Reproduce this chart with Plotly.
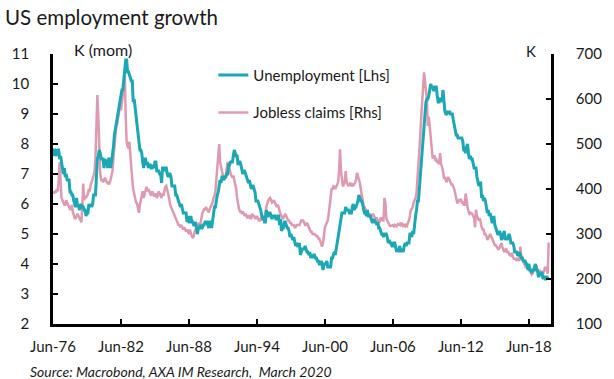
import pandas as pd
import plotly.graph_objects as go

# ---------------- DATA ----------------
start_month = "1976-06-01"
x_range = ["1976-06-01", "2020-05-15"]
tick_dates = ["1976-06-01", "1982-06-01", "1988-06-01", "1994-06-01",
              "2000-06-01", "2006-06-01", "2012-06-01", "2018-06-01"]
tick_labels = ["Jun-76", "Jun-82", "Jun-88", "Jun-94", "Jun-00", "Jun-06", "Jun-12", "Jun-18"]

# Unemployment rate (%), monthly, Jun-1976 .. Feb-2020  [Lhs]
unemployment_by_year = [
    [7.6, 7.8, 7.8, 7.6, 7.7, 7.8, 7.8],
    [7.5, 7.6, 7.4, 7.2, 7.0, 7.2, 6.9, 7.0, 6.8, 6.8, 6.8, 6.4],
    [6.4, 6.3, 6.3, 6.1, 6.0, 5.9, 6.2, 5.9, 6.0, 5.8, 5.9, 6.0],
    [5.9, 5.9, 5.8, 5.8, 5.6, 5.7, 5.7, 6.0, 5.9, 6.0, 5.9, 6.0],
    [6.3, 6.3, 6.3, 6.9, 7.5, 7.6, 7.8, 7.7, 7.5, 7.5, 7.5, 7.2],
    [7.5, 7.4, 7.4, 7.2, 7.5, 7.5, 7.2, 7.4, 7.6, 7.9, 8.3, 8.5],
    [8.6, 8.9, 9.0, 9.3, 9.4, 9.6, 9.8, 9.8, 10.1, 10.4, 10.8, 10.8],
    [10.4, 10.4, 10.3, 10.2, 10.1, 10.1, 9.4, 9.5, 9.2, 8.8, 8.5, 8.3],
    [8.0, 7.8, 7.8, 7.7, 7.4, 7.2, 7.5, 7.5, 7.3, 7.4, 7.2, 7.3],
    [7.3, 7.2, 7.2, 7.3, 7.2, 7.4, 7.4, 7.1, 7.1, 7.1, 7.0, 7.0],
    [6.7, 7.2, 7.2, 7.1, 7.2, 7.2, 7.0, 6.9, 7.0, 7.0, 6.9, 6.6],
    [6.6, 6.6, 6.6, 6.3, 6.3, 6.2, 6.1, 6.0, 5.9, 6.0, 5.8, 5.7],
    [5.7, 5.7, 5.7, 5.4, 5.6, 5.4, 5.4, 5.6, 5.4, 5.4, 5.3, 5.3],
    [5.4, 5.2, 5.0, 5.2, 5.2, 5.3, 5.2, 5.2, 5.3, 5.3, 5.4, 5.4],
    [5.4, 5.3, 5.2, 5.4, 5.4, 5.2, 5.5, 5.7, 5.9, 5.9, 6.2, 6.3],
    [6.4, 6.6, 6.8, 6.7, 6.9, 6.9, 6.8, 6.9, 6.9, 7.0, 7.0, 7.3],
    [7.3, 7.4, 7.4, 7.4, 7.6, 7.8, 7.7, 7.6, 7.6, 7.3, 7.4, 7.4],
    [7.3, 7.1, 7.0, 7.1, 7.1, 7.0, 6.9, 6.8, 6.7, 6.8, 6.6, 6.5],
    [6.6, 6.6, 6.5, 6.4, 6.1, 6.1, 6.1, 6.0, 5.9, 5.8, 5.6, 5.5],
    [5.6, 5.4, 5.4, 5.8, 5.6, 5.6, 5.7, 5.7, 5.6, 5.5, 5.6, 5.6],
    [5.6, 5.5, 5.5, 5.6, 5.6, 5.3, 5.5, 5.1, 5.2, 5.2, 5.4, 5.4],
    [5.3, 5.2, 5.2, 5.1, 4.9, 5.0, 4.9, 4.8, 4.9, 4.7, 4.6, 4.7],
    [4.6, 4.6, 4.7, 4.3, 4.4, 4.5, 4.5, 4.5, 4.6, 4.5, 4.4, 4.4],
    [4.3, 4.4, 4.2, 4.3, 4.2, 4.3, 4.3, 4.2, 4.2, 4.1, 4.1, 4.0],
    [4.0, 4.1, 4.0, 3.8, 4.0, 4.0, 4.0, 4.1, 3.9, 3.9, 3.9, 3.9],
    [4.2, 4.2, 4.3, 4.4, 4.3, 4.5, 4.6, 4.9, 5.0, 5.3, 5.5, 5.7],
    [5.7, 5.7, 5.7, 5.9, 5.8, 5.8, 5.8, 5.7, 5.7, 5.7, 5.9, 6.0],
    [5.8, 5.9, 5.9, 6.0, 6.1, 6.3, 6.2, 6.1, 6.1, 6.0, 5.8, 5.7],
    [5.7, 5.6, 5.8, 5.6, 5.6, 5.6, 5.5, 5.4, 5.4, 5.5, 5.4, 5.4],
    [5.3, 5.4, 5.2, 5.2, 5.1, 5.0, 5.0, 4.9, 5.0, 5.0, 5.0, 4.9],
    [4.7, 4.8, 4.7, 4.7, 4.6, 4.6, 4.7, 4.7, 4.5, 4.4, 4.5, 4.4],
    [4.6, 4.5, 4.4, 4.5, 4.4, 4.6, 4.7, 4.6, 4.7, 4.7, 4.7, 5.0],
    [5.0, 4.9, 5.1, 5.0, 5.4, 5.6, 5.8, 6.1, 6.1, 6.5, 6.8, 7.3],
    [7.8, 8.3, 8.7, 9.0, 9.4, 9.5, 9.5, 9.6, 9.8, 10.0, 9.9, 9.9],
    [9.8, 9.8, 9.9, 9.9, 9.6, 9.4, 9.4, 9.5, 9.5, 9.4, 9.8, 9.3],
    [9.1, 9.0, 9.0, 9.1, 9.0, 9.1, 9.0, 9.0, 9.0, 8.8, 8.6, 8.5],
    [8.3, 8.3, 8.2, 8.2, 8.2, 8.2, 8.2, 8.1, 7.8, 7.8, 7.7, 7.9],
    [8.0, 7.7, 7.5, 7.6, 7.5, 7.5, 7.3, 7.2, 7.2, 7.2, 6.9, 6.7],
    [6.6, 6.7, 6.7, 6.2, 6.3, 6.1, 6.2, 6.1, 5.9, 5.7, 5.8, 5.6],
    [5.7, 5.5, 5.4, 5.4, 5.6, 5.3, 5.2, 5.1, 5.0, 5.0, 5.1, 5.0],
    [4.8, 4.9, 5.0, 5.1, 4.8, 4.9, 4.8, 4.9, 5.0, 4.9, 4.7, 4.7],
    [4.7, 4.6, 4.4, 4.4, 4.4, 4.3, 4.3, 4.4, 4.3, 4.2, 4.2, 4.1],
    [4.1, 4.1, 4.0, 4.0, 3.8, 4.0, 3.8, 3.8, 3.7, 3.8, 3.8, 3.9],
    [4.0, 3.8, 3.8, 3.6, 3.6, 3.7, 3.7, 3.7, 3.5, 3.6, 3.5, 3.5],
    [3.6, 3.5],
]

# Initial jobless claims (K), monthly, Jun-1976 .. Mar-2020  [Rhs]
claims_by_year = [
    [395, 390, 395, 392, 400, 395, 420],
    [460, 420, 380, 375, 370, 365, 365, 375, 370, 365, 360, 355],
    [355, 365, 350, 340, 335, 335, 340, 345, 340, 335, 328, 326],
    [360, 412, 375, 385, 380, 385, 390, 400, 395, 410, 420, 422],
    [430, 440, 470, 560, 609, 560, 480, 435, 420, 420, 415, 420],
    [425, 420, 415, 415, 410, 415, 420, 430, 440, 470, 500, 520],
    [540, 545, 560, 575, 585, 575, 590, 610, 640, 661, 560, 505],
    [495, 490, 505, 470, 450, 420, 400, 390, 380, 370, 368, 360],
    [347, 365, 375, 385, 395, 380, 390, 400, 405, 395, 400, 395],
    [390, 385, 395, 390, 385, 385, 390, 380, 385, 395, 390, 385],
    [380, 390, 385, 395, 405, 407, 400, 390, 380, 365, 360, 355],
    [350, 345, 340, 335, 330, 325, 320, 320, 315, 320, 315, 310],
    [315, 310, 305, 310, 305, 300, 310, 300, 295, 291, 295, 305],
    [310, 315, 320, 320, 325, 320, 340, 345, 350, 355, 355, 360],
    [355, 350, 348, 355, 360, 365, 370, 380, 385, 395, 420, 440],
    [480, 500, 460, 445, 440, 430, 420, 425, 430, 445, 460, 455],
    [440, 435, 430, 425, 430, 420, 410, 400, 380, 360, 355, 350],
    [350, 345, 350, 345, 340, 345, 340, 335, 340, 340, 335, 335],
    [345, 340, 340, 335, 335, 340, 335, 330, 330, 335, 330, 335],
    [335, 340, 345, 360, 370, 375, 378, 380, 375, 370, 372, 375],
    [370, 365, 360, 365, 360, 350, 345, 340, 335, 335, 340, 345],
    [340, 335, 330, 330, 325, 325, 320, 320, 320, 315, 315, 320],
    [320, 320, 320, 325, 330, 330, 330, 325, 320, 320, 325, 320],
    [315, 310, 305, 305, 300, 300, 300, 298, 295, 295, 290, 290],
    [285, 280, 272, 280, 300, 315, 320, 325, 330, 345, 365, 385],
    [399, 400, 406, 405, 400, 405, 410, 415, 440, 488, 440, 415],
    [406, 410, 415, 440, 415, 410, 408, 410, 414, 406, 410, 408],
    [410, 415, 420, 436, 430, 420, 414, 400, 390, 375, 362, 360],
    [355, 350, 345, 340, 340, 345, 340, 340, 345, 340, 335, 335],
    [335, 330, 330, 328, 335, 335, 330, 330, 380, 370, 335, 330],
    [325, 320, 318, 318, 320, 320, 317, 320, 318, 317, 322, 320],
    [320, 325, 320, 322, 318, 320, 317, 320, 318, 325, 330, 340],
    [354, 355, 360, 370, 375, 380, 391, 420, 450, 480, 520, 560],
    [590, 630, 659, 640, 620, 600, 540, 560, 540, 520, 490, 470],
    [470, 475, 465, 466, 460, 460, 455, 480, 455, 450, 440, 425],
    [425, 420, 415, 425, 425, 420, 415, 410, 410, 405, 400, 390],
    [380, 370, 370, 375, 375, 378, 370, 370, 365, 365, 390, 370],
    [360, 350, 345, 347, 345, 345, 340, 335, 315, 354, 340, 335],
    [330, 335, 320, 315, 310, 310, 300, 300, 295, 287, 290, 295],
    [300, 295, 290, 285, 280, 275, 275, 272, 270, 265, 270, 275],
    [280, 270, 265, 260, 265, 268, 258, 262, 255, 255, 250, 258],
    [250, 245, 245, 245, 240, 245, 245, 240, 272, 250, 245, 240],
    [235, 230, 225, 230, 225, 222, 220, 215, 210, 212, 222, 225],
    [225, 230, 220, 215, 215, 218, 215, 215, 212, 218, 225, 225],
    [215, 212, 281],
]

unemployment = [v for yr in unemployment_by_year for v in yr]
claims = [v for yr in claims_by_year for v in yr]
dates_u = pd.date_range(start_month, periods=len(unemployment), freq="MS")
dates_c = pd.date_range(start_month, periods=len(claims), freq="MS")

# ---------------- FIGURE ----------------
FONT = "Lato, 'Open Sans', sans-serif"
CYAN = "#1AA7B6"
PINK = "#E09AAF"
TXT = "#1a1a1a"

fig = go.Figure()
fig.add_trace(go.Scatter(x=dates_u, y=unemployment, name="Unemployment [Lhs]",
                         mode="lines", line=dict(color=CYAN, width=3),
                         yaxis="y2", legendgroup="a"))
fig.add_trace(go.Scatter(x=dates_c, y=claims, name="Jobless claims [Rhs]",
                         mode="lines", line=dict(color=PINK, width=2.5),
                         yaxis="y", legendgroup="b"))

axis_common = dict(showline=True, linecolor="black", linewidth=2.6,
                   ticks="inside", ticklen=5, tickwidth=2, tickcolor="black",
                   showgrid=False, zeroline=False,
                   tickfont=dict(family=FONT, size=15, color=TXT))

fig.update_layout(
    width=614, height=379,
    margin=dict(l=38, r=48, t=54, b=55),
    paper_bgcolor="white", plot_bgcolor="white",
    font=dict(family=FONT, size=14, color=TXT),
    title=dict(text="US employment growth", x=5/614, xanchor="left",
               xref="container", y=1-18/379, yanchor="middle", yref="container",
               font=dict(family=FONT, size=20.5, color=TXT)),
    xaxis=dict(type="date", range=x_range,
               tickvals=tick_dates, ticktext=tick_labels,
               ticklabelstandoff=7, **axis_common),
    yaxis=dict(side="right", range=[100, 700], dtick=100, tick0=100,
               ticklabelstandoff=19, **axis_common),
    yaxis2=dict(side="left", overlaying="y", range=[2, 11], dtick=1, tick0=2,
                ticklabelstandoff=18, **axis_common),
    legend=dict(x=0.322, y=0.982, xanchor="left", yanchor="top",
                bgcolor="rgba(0,0,0,0)", tracegroupgap=15,
                font=dict(family=FONT, size=15, color=TXT),
                traceorder="grouped"),
    showlegend=True,
    annotations=[
        dict(text="K (mom)", x=0.0995, y=1.015, xref="paper", yref="paper",
             showarrow=False, xanchor="center", yanchor="middle",
             font=dict(family=FONT, size=16, color=TXT)),
        dict(text="K", x=0.960, y=1.011, xref="paper", yref="paper",
             showarrow=False, xanchor="center", yanchor="middle",
             font=dict(family=FONT, size=15, color=TXT)),
        dict(text="<i>Source: Macrobond, AXA IM Research,  March 2020</i>",
             x=(12-38)/528, y=-(371-324)/270, xref="paper", yref="paper",
             showarrow=False, xanchor="left", yanchor="middle",
             font=dict(family=FONT, size=14, color=TXT)),
    ],
)

fig.write_html("out.html",
               config={"displayModeBar": False},
               post_script="document.body.style.margin='0';document.body.style.overflow='hidden';")
